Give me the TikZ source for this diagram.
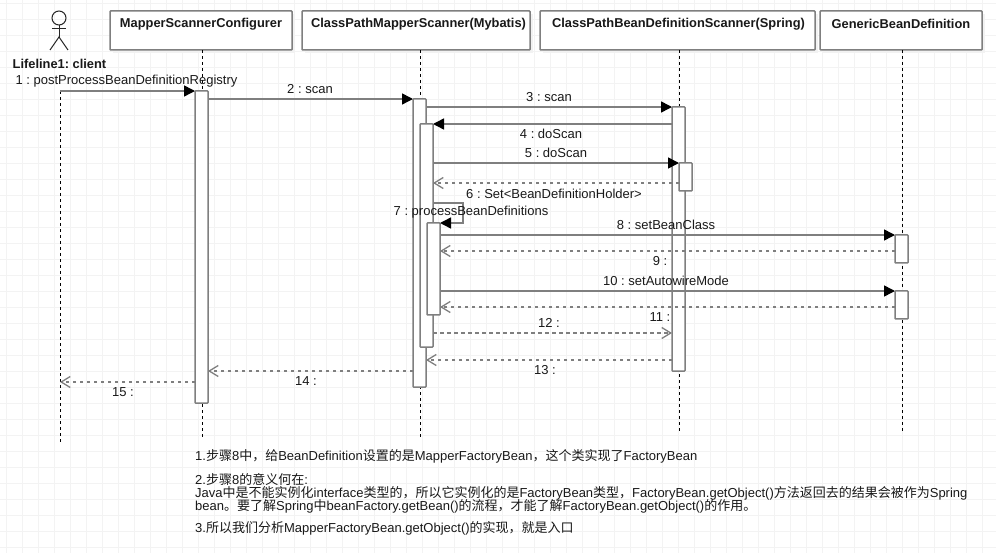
\documentclass[tikz,border=0pt]{standalone}
\usepackage{fontspec}
\setmainfont{Liberation Sans}
\newfontfamily\cjk{Noto Sans CJK SC}
\newcommand{\C}[1]{{\cjk #1}}
\usetikzlibrary{arrows.meta}
\definecolor{ln}{HTML}{7F7F7F}
\definecolor{gridc}{HTML}{F3F3F3}
\tikzset{
 x=1pt,y=-1pt,
 lifebox/.style={draw=ln,line width=1.5pt,fill=white,rounded corners=0.8pt,inner sep=0pt,outer sep=0pt},
 lifeshadow/.style={fill=black!5},
 lifetitle/.style={font=\fontsize{12.85}{13}\selectfont\bfseries\frenchspacing,inner sep=0pt,text=black!90},
 lifeline/.style={draw=black,line width=0.9pt,dash pattern=on 3pt off 3pt},
 bar/.style={draw=ln,line width=1.5pt,fill=white,rounded corners=0.6pt,minimum width=13pt,inner sep=0pt,outer sep=0pt},
 sync/.style={draw=ln,line width=1.5pt,-{Triangle[length=11pt,width=11pt,fill=black,color=black]}},
 ret/.style={draw=ln,line width=1.4pt,dash pattern=on 3.5pt off 3.5pt,-{Straight Barb[length=9pt,width=11pt,line width=1.3pt,color=ln]}},
 msg/.style={font=\fontsize{13}{13}\selectfont\frenchspacing,inner sep=0pt,text=black!90},
 note/.style={font=\fontsize{13}{13}\selectfont\frenchspacing,inner sep=0pt,anchor=base west,text=black!90},
 figure/.style={draw=black!85,line width=1pt},
}
\begin{document}
\begin{tikzpicture}
\useasboundingbox (0,0) rectangle (996,553);
\fill[white] (0,0) rectangle (996,553);
\foreach \gx in {6.5,22.5,...,996} \draw[gridc,line width=0.8pt] (\gx,0) -- (\gx,553);
\foreach \gy in {3,19,...,553} \draw[gridc,line width=0.8pt] (0,\gy) -- (996,\gy);

% actor
\node[draw=black!85,line width=1pt,circle,minimum size=14pt,inner sep=0pt,outer sep=0pt] (head) at (59,18) {};
\coordinate (hip) at (59,37);
\coordinate (armL) at (52,29);
\coordinate (armR) at (66,29);
\coordinate (footL) at (50,50);
\coordinate (footR) at (68,50);
\draw[figure] (head.south) -- (hip);
\draw[figure] (armL) -- (armR);
\draw[figure] (footL) -- (hip) -- (footR);
\node[lifetitle] (actorlabel) at (59.5,63.5) {Lifeline1: client};

% lifeline heads
\foreach \xa/\xb in {110/292,302/530,540/815,820/982}
  \fill[lifeshadow] (\xa+3,14) rectangle (\xb+3,53);
\node[lifebox,minimum width=182pt,minimum height=39pt] (b1) at (201,30.5) {};
\node[lifebox,minimum width=228pt,minimum height=39pt] (b2) at (416,30.5) {};
\node[lifebox,minimum width=275pt,minimum height=39pt] (b3) at (677.5,30.5) {};
\node[lifebox,minimum width=162pt,minimum height=39pt] (b4) at (901,30.5) {};
\node[lifetitle] (t1) at (201,24) {MapperScannerConfigurer};
\node[lifetitle] (t2) at (418.5,24) {ClassPathMapperScanner(Mybatis)};
\node[lifetitle] (t3) at (678.5,24) {ClassPathBeanDefinitionScanner(Spring)};
\node[lifetitle] (t4) at (901,24) {GenericBeanDefinition};

% lifelines
\coordinate (e0) at (60,442);
\coordinate (s0) at (60,91);
\coordinate (s1) at (202,50);
\coordinate (e1) at (202,438);
\coordinate (s2) at (420.5,50);
\coordinate (e2) at (420.5,438);
\coordinate (s3) at (679,50);
\coordinate (e3) at (679,432);
\coordinate (s4) at (902,50);
\coordinate (e4) at (902,432);
\draw[lifeline] (s0) -- (e0);
\draw[lifeline] (s1) -- (e1);
\draw[lifeline] (s2) -- (e2);
\draw[lifeline] (s3) -- (e3);
\draw[lifeline] (s4) -- (e4);

% activation bars
\node[bar,minimum height=312pt] (a1) at (201.5,247) {};
\node[bar,minimum height=288pt] (a2) at (419.5,243) {};
\node[bar,minimum height=223pt] (a3) at (426.5,235.5) {};
\node[bar,minimum height=92pt] (a4) at (433.5,269) {};
\node[bar,minimum height=264pt] (c1) at (678.5,239) {};
\node[bar,minimum height=28pt] (c2) at (685.5,177) {};
\node[bar,minimum height=28pt] (d1) at (901.5,249) {};
\node[bar,minimum height=28pt] (d2) at (901.5,305) {};

% messages
\draw[sync] (s0 |- 0,91) -- (a1.west |- 0,91);
\draw[sync] (a1.east |- 0,99) -- (a2.west |- 0,99);
\draw[sync] (a2.east |- 0,107) -- (c1.west |- 0,107);
\draw[sync] (c1.west |- 0,124) -- (a3.east |- 0,124);
\draw[sync] (a3.east |- 0,163) -- (c2.west |- 0,163);
\draw[ret] (c2.west |- 0,183) -- (a3.east |- 0,183);
\draw[sync] (a3.east |- 0,203) -- (463,203) -- (463,223) -- (a4.east |- 0,223);
\draw[sync] (a4.east |- 0,235) -- (d1.west |- 0,235);
\draw[ret] (d1.west |- 0,251) -- (a4.east |- 0,251);
\draw[sync] (a4.east |- 0,291) -- (d2.west |- 0,291);
\draw[ret] (d2.west |- 0,307) -- (a4.east |- 0,307);
\draw[ret] (a3.east |- 0,333) -- (c1.west |- 0,333);
\draw[ret] (c1.west |- 0,360) -- (a2.east |- 0,360);
\draw[ret] (a2.west |- 0,371) -- (a1.east |- 0,371);
\draw[ret] (a1.west |- 0,382) -- (s0 |- 0,382);

% labels
\node[msg] (l1) at (126.5,81) {1 : postProcessBeanDefinitionRegistry};
\node[msg] (l2) at (310,89) {2 : scan};
\node[msg] (l3) at (549,97) {3 : scan};
\node[msg] (l4) at (551,134) {4 : doScan};
\node[msg] (l5) at (556,153) {5 : doScan};
\node[msg] (l6) at (554,194) {6 : Set<BeanDefinitionHolder>};
\node[msg] (l7) at (471,212) {7 : processBeanDefinitions};
\node[msg] (l8) at (666,225) {8 : setBeanClass};
\node[msg] (l9) at (660,261) {9 :};
\node[msg] (l10) at (666,281) {10 : setAutowireMode};
\node[msg] (l11) at (660,317) {11 :};
\node[msg] (l12) at (549,323) {12 :};
\node[msg] (l13) at (545,370) {13 :};
\node[msg] (l14) at (306,381) {14 :};
\node[msg] (l15) at (123,392) {15 :};

% notes
\node[note] (n1) at (195,460) {1.\C{步骤}8\C{中，给}BeanDefinition\C{设置的是}MapperFactoryBean\C{，这个类实现了}FactoryBean};
\node[note] (n2) at (195,484) {2.\C{步骤}8\C{的意义何在}:};
\node[note] (n3) at (195,497) {Java\C{中是不能实例化}interface\C{类型的，所以它实例化的是}FactoryBean\C{类型，}FactoryBean.getObject()\C{方法返回去的结果会被作为}Spring};
\node[note] (n4) at (195,510) {bean\C{。要了解}Spring\C{中}beanFactory.getBean()\C{的流程，才能了解}FactoryBean.getObject()\C{的作用。}};
\node[note] (n5) at (195,532) {3.\C{所以我们分析}MapperFactoryBean.getObject()\C{的实现，就是入口}};
\end{tikzpicture}
\end{document}
